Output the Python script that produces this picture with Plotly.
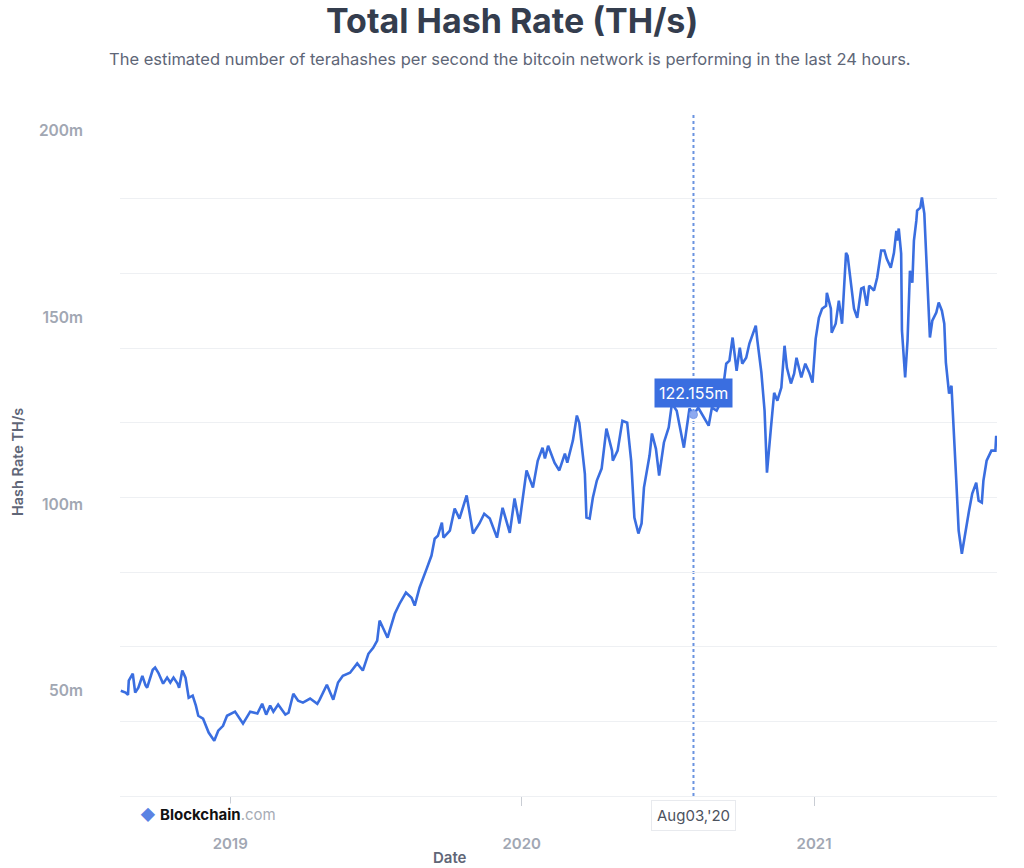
import plotly.graph_objects as go

# ---- data ----
dates = [
    "2018-08-17","2018-08-23","2018-08-26","2018-08-27","2018-09-01","2018-09-04","2018-09-08","2018-09-13",
    "2018-09-17","2018-09-19","2018-09-26","2018-09-29","2018-10-03","2018-10-09","2018-10-14","2018-10-18",
    "2018-10-22","2018-10-27","2018-10-29","2018-11-02","2018-11-06","2018-11-10","2018-11-15","2018-11-19",
    "2018-11-22","2018-11-28","2018-12-05","2018-12-12","2018-12-17","2018-12-23","2018-12-28","2019-01-07",
    "2019-01-17","2019-01-26","2019-02-04","2019-02-10","2019-02-15","2019-02-20","2019-02-24","2019-03-02",
    "2019-03-11","2019-03-15","2019-03-21","2019-03-27","2019-04-02","2019-04-11","2019-04-20","2019-04-23",
    "2019-05-02","2019-05-10","2019-05-16","2019-05-22","2019-05-31","2019-06-09","2019-06-16","2019-06-23",
    "2019-06-29","2019-07-04","2019-07-07","2019-07-11","2019-07-17","2019-07-26","2019-08-01","2019-08-09",
    "2019-08-16","2019-08-20","2019-08-26","2019-09-04","2019-09-10","2019-09-14","2019-09-18","2019-09-23",
    "2019-09-25","2019-10-03","2019-10-09","2019-10-15","2019-10-24","2019-11-01","2019-11-09","2019-11-15",
    "2019-11-22","2019-12-01","2019-12-08","2019-12-17","2019-12-23","2019-12-29","2020-01-07","2020-01-15",
    "2020-01-21","2020-01-27","2020-01-30","2020-02-03","2020-02-11","2020-02-17","2020-02-24","2020-02-27",
    "2020-03-05","2020-03-10","2020-03-13","2020-03-20","2020-03-22","2020-03-26","2020-03-30","2020-04-04",
    "2020-04-10","2020-04-16","2020-04-23","2020-04-24","2020-04-30","2020-05-06","2020-05-12","2020-05-17",
    "2020-05-21","2020-05-26","2020-05-30","2020-06-02","2020-06-09","2020-06-12","2020-06-17","2020-06-21",
    "2020-06-27","2020-07-03","2020-07-07","2020-07-13","2020-07-20","2020-07-22","2020-07-29","2020-08-03",
    "2020-08-09","2020-08-16","2020-08-22","2020-08-26","2020-09-01","2020-09-07","2020-09-13","2020-09-17",
    "2020-09-21","2020-09-26","2020-09-30","2020-10-03","2020-10-08","2020-10-12","2020-10-16","2020-10-20",
    "2020-10-22","2020-10-27","2020-10-31","2020-11-03","2020-11-08","2020-11-12","2020-11-16","2020-11-21",
    "2020-11-25","2020-11-28","2020-12-03","2020-12-07","2020-12-10","2020-12-16","2020-12-21","2020-12-26",
    "2020-12-30","2021-01-03","2021-01-07","2021-01-11","2021-01-16","2021-01-17","2021-01-22","2021-01-23",
    "2021-01-28","2021-02-01","2021-02-05","2021-02-10","2021-02-12","2021-02-16","2021-02-20","2021-02-24",
    "2021-03-01","2021-03-04","2021-03-08","2021-03-11","2021-03-17","2021-03-21","2021-03-26","2021-03-30",
    "2021-04-02","2021-04-07","2021-04-11","2021-04-14","2021-04-15","2021-04-17","2021-04-20","2021-04-21",
    "2021-04-25","2021-04-28","2021-05-01","2021-05-04","2021-05-06","2021-05-09","2021-05-10","2021-05-14",
    "2021-05-16","2021-05-19","2021-05-23","2021-05-26","2021-05-29","2021-06-03","2021-06-06","2021-06-10",
    "2021-06-13","2021-06-15","2021-06-19","2021-06-22","2021-06-28","2021-07-01","2021-07-05","2021-07-10",
    "2021-07-14","2021-07-18","2021-07-23","2021-07-26","2021-07-30","2021-08-01","2021-08-05","2021-08-11",
    "2021-08-16","2021-08-17",
]
hash_rate = [
    48.2, 47.7, 47.1, 50.9, 52.8, 47.7, 49.0, 52.2,
    49.6, 49.0, 53.8, 54.4, 53.0, 50.1, 51.7, 50.4,
    51.7, 50.1, 49.0, 53.6, 51.7, 46.3, 46.9, 44.2,
    41.5, 40.7, 37.0, 34.8, 37.5, 38.8, 41.5, 42.6,
    39.4, 42.6, 42.1, 44.7, 41.8, 44.2, 42.6, 44.5,
    41.8, 42.3, 47.4, 45.5, 45.0, 46.1, 44.7, 45.8,
    49.8, 45.8, 50.4, 52.2, 53.0, 55.5, 53.6, 58.1,
    59.7, 61.6, 67.0, 65.1, 62.4, 68.8, 71.5, 74.5,
    73.1, 71.0, 75.8, 80.9, 84.4, 88.9, 89.7, 93.2,
    89.2, 91.1, 97.0, 94.3, 100.5, 90.3, 93.0, 95.6,
    94.3, 89.2, 97.2, 90.5, 99.7, 93.0, 107.2, 102.6,
    109.8, 113.3, 110.4, 113.8, 109.3, 107.2, 111.7, 109.3,
    115.2, 121.9, 120.0, 106.3, 94.6, 94.3, 99.9, 104.5,
    107.7, 118.4, 112.5, 109.8, 112.5, 120.5, 120.0, 109.8,
    94.6, 90.3, 93.0, 102.6, 111.2, 117.1, 113.0, 105.8,
    114.7, 118.7, 125.1, 123.2, 116.0, 113.3, 123.8, 122.155,
    124.0, 121.4, 119.2, 124.0, 123.2, 125.9, 135.8, 136.6,
    142.8, 133.9, 140.1, 135.8, 137.4, 141.2, 143.9, 146.0,
    142.0, 133.4, 123.2, 106.6, 118.7, 128.0, 125.9, 129.4,
    140.6, 134.7, 130.5, 133.1, 137.4, 132.1, 135.8, 133.4,
    130.7, 142.5, 148.1, 150.5, 151.3, 154.8, 150.5, 144.1,
    146.5, 152.7, 146.5, 165.5, 164.7, 157.2, 150.5, 148.1,
    155.9, 156.2, 151.3, 156.7, 155.4, 158.9, 166.1, 166.1,
    163.9, 161.5, 165.5, 171.4, 168.8, 172.0, 165.3, 144.7,
    132.1, 142.0, 160.7, 157.5, 168.8, 174.1, 176.8, 177.6,
    180.3, 176.0, 158.0, 142.8, 147.3, 149.5, 152.2, 150.0,
    146.5, 136.1, 127.8, 129.9, 104.5, 91.1, 84.9, 91.9,
    96.4, 101.0, 103.9, 99.1, 98.6, 104.5, 109.8, 112.5,
    112.5, 116.5,
]

x_tick_vals = ["2019-01-01", "2020-01-01", "2021-01-01"]
x_tick_text = ["2019", "2020", "2021"]
y_grid_vals = [20, 40, 60, 80, 100, 120, 140, 160, 180, 200]
y_label_vals = [50, 100, 150, 200]
y_label_text = ["50m", "100m", "150m", "200m"]

hover_date = "2020-08-03"
hover_value = 122.155
hover_label = "122.155m"
hover_date_label = "Aug03,'20"

title_text = "Total Hash Rate (TH/s)"
subtitle_text = "The estimated number of terahashes per second the bitcoin network is performing in the last 24 hours."

# ---- styling ----
FONT = "Inter"
LINE_BLUE = "#3a6ee0"
GRID = "#eef0f3"
TICK_GREY = "#a1a7b3"
AXIS_TITLE = "#5f6677"

fig = go.Figure()
fig.add_trace(go.Scatter(
    x=dates, y=hash_rate, mode="lines",
    line=dict(color=LINE_BLUE, width=2.6),
    hoverinfo="skip", showlegend=False,
))
fig.add_trace(go.Scatter(
    x=[hover_date], y=[hover_value], mode="markers", yaxis="y2",
    marker=dict(color="#8eaaf0", size=8, line=dict(color="#7b9ce8", width=1)),
    hoverinfo="skip", showlegend=False,
))

fig.update_layout(
    width=1024, height=868,
    margin=dict(l=120, r=27, t=124, b=72),
    paper_bgcolor="white", plot_bgcolor="white",
    font=dict(family=FONT, color=TICK_GREY),
    xaxis=dict(
        type="date",
        range=["2018-08-16", "2021-08-18"],
        tickvals=x_tick_vals, ticktext=x_tick_text,
        showgrid=False, zeroline=False,
        showline=True, linecolor=GRID, linewidth=1,
        ticks="outside", ticklen=9, tickcolor="#c9cdd4", tickwidth=1,
        ticklabelstandoff=25,
        tickfont=dict(family=FONT, size=15, color=TICK_GREY, weight=600),
    ),
    yaxis=dict(
        range=[20, 200],
        tickvals=y_grid_vals, showticklabels=False,
        showgrid=True, gridcolor=GRID, gridwidth=1,
        zeroline=False, showline=False, ticks="",
    ),
    yaxis2=dict(
        range=[20, 200], overlaying="y", side="left",
        tickvals=y_label_vals, ticktext=y_label_text,
        showgrid=False, zeroline=False, showline=False, ticks="",
        ticklabelstandoff=36, ticklabelshift=7,
        tickfont=dict(family=FONT, size=15.5, color=TICK_GREY, weight=600),
    ),
    shapes=[dict(
        type="line", xref="x", yref="paper",
        x0=hover_date, x1=hover_date, y0=0, y1=1.0164,
        line=dict(color="#6a93e0", width=2, dash="dot"),
        layer="below",
    )],
    annotations=[
        dict(text=title_text, xref="paper", yref="paper", x=0.447, y=1.154,
             xanchor="center", yanchor="middle", showarrow=False,
             font=dict(family=FONT, size=34, color="#343d4e", weight=700)),
        dict(text=subtitle_text, xref="paper", yref="paper", x=0.4447, y=1.0967,
             xanchor="center", yanchor="middle", showarrow=False,
             font=dict(family=FONT, size=16.5, color="#5e6677")),
        dict(text="Hash Rate TH/s", xref="paper", yref="paper", x=-0.1174, y=0.497,
             xanchor="center", yanchor="middle", textangle=-90, showarrow=False,
             font=dict(family=FONT, size=14.5, color=AXIS_TITLE, weight=600)),
        dict(text="Date", xref="paper", yref="paper", x=0.376, y=-0.092,
             xanchor="center", yanchor="middle", showarrow=False,
             font=dict(family=FONT, size=15, color=AXIS_TITLE, weight=600)),
        dict(text="<span style='color:#5b82e3'>◆</span> <b>Blockchain</b><span style='color:#a6abb5'>.com</span>",
             xref="paper", yref="paper", x=0.0205, y=-0.028,
             xanchor="left", yanchor="middle", showarrow=False, bgcolor="white",
             font=dict(family=FONT, size=15, color="#111111")),
        dict(text=hover_label, xref="x", yref="y", x=hover_date, y=hover_value,
             yshift=22, xanchor="center", yanchor="middle", showarrow=False,
             bgcolor="#3a6ee0", borderpad=4,
             font=dict(family=FONT, size=16, color="white")),
        dict(text=hover_date_label, xref="x", yref="paper", x=hover_date, y=0,
             yshift=-4, xanchor="center", yanchor="top", showarrow=False,
             bgcolor="white", bordercolor="#e8eaee", borderwidth=1, borderpad=5,
             font=dict(family=FONT, size=15, color="#4c525e")),
    ],
)

fig.write_html(
    "out.html",
    config={"displayModeBar": False},
    post_script="document.body.style.margin='0px';document.body.style.padding='0px';",
)
